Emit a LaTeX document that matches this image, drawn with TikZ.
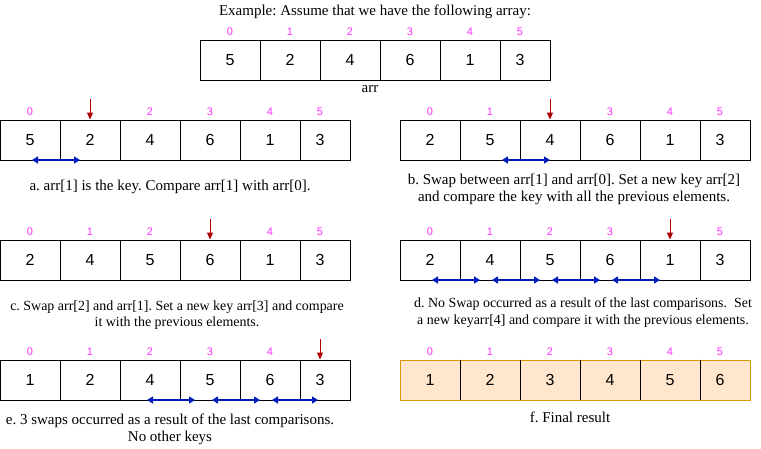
\documentclass[tikz,border=0pt]{standalone}
\usepackage{fontspec}
\setmainfont{Liberation Serif}
\newfontfamily\arialf{Liberation Sans}
\usetikzlibrary{arrows.meta}
\frenchspacing
\definecolor{idxmag}{HTML}{FF33FF}
\definecolor{keyred}{HTML}{B20000}
\definecolor{swapblue}{HTML}{001DBC}
\definecolor{peach}{HTML}{FFE6CC}
\definecolor{peachline}{HTML}{D79B00}
\tikzset{
  cell/.style={draw=black, line width=0.9pt, minimum width=60pt, minimum height=40pt, inner sep=0pt, font=\arialf\fontsize{16}{18}\selectfont},
  fcell/.style={cell, draw=peachline, fill=peach},
  idx/.style={inner sep=0pt, text=idxmag, font=\arialf\fontsize{11}{12}\selectfont},
  captxt/.style={align=center, inner sep=0pt, font=\frenchspacing\fontsize{15}{16.5}\selectfont},
  captsmall/.style={align=center, inner sep=0pt, font=\frenchspacing\fontsize{13.95}{16.2}\selectfont},
  keyarrow/.style={draw=keyred, line width=0.9pt, -{Triangle[length=7pt,width=6pt]}},
  swaparrow/.style={draw=swapblue, line width=1.7pt, {Triangle[length=6pt,width=7pt]}-{Triangle[length=6pt,width=7pt]}}
}
\newcommand\cellrow[5]{%
  \foreach \v [count=\k from 0] in {#5}{%
    \ifnum\k<5
      \node[#4] (#1\k) at ({#2+30+60*\k},{#3+20}) {\v};
    \else
      \node[#4,minimum width=50pt] (#1\k) at ({#2+325},{#3+20}) {\hspace*{-10pt}\v};
    \fi
  }}
\newcommand\idxrow[4]{%
  \foreach \k in {#4}{%
    \ifnum\k<5
      \node[idx] (#1i\k) at ({#2+30+60*\k},{#3-8}) {\k};
    \else
      \node[idx] (#1i\k) at ({#2+320},{#3-8}) {\k};
    \fi
  }}
\begin{document}
\begin{tikzpicture}[x=1pt,y=-1pt]
\useasboundingbox (0,0) rectangle (761,448);
\fill[white] (0,0) rectangle (761,448);

% top array
\node[captxt] (title) at (375,12) {Example: Assume that we have the following array:};
\cellrow{t}{200}{40}{cell}{5,2,4,6,1,3}
\idxrow{t}{200}{40}{0,1,2,3,4,5}
\node[captxt] (arrlbl) at (370,89) {arr};

% panel a
\cellrow{a}{0}{120}{cell}{5,2,4,6,1,3}
\idxrow{a}{0}{120}{0,2,3,4,5}
\coordinate (ka) at (90,99);
\draw[keyarrow] (ka) -- (ka |- a1.north);
\coordinate (sa0) at (32,160);
\coordinate (sa1) at (80,160);
\draw[swaparrow] (sa0) -- (sa1);
\node[captxt] (capa) at (170,186.5) {a. arr[1] is the key. Compare arr[1] with arr[0].};

% panel b
\cellrow{b}{400}{120}{cell}{2,5,4,6,1,3}
\idxrow{b}{400}{120}{0,1,3,4,5}
\coordinate (kb) at (550,99);
\draw[keyarrow] (kb) -- (kb |- b2.north);
\coordinate (sb0) at (502,160);
\coordinate (sb1) at (550,160);
\draw[swaparrow] (sb0) -- (sb1);
\node[captxt] (capb) at (574,189.5) {b. Swap between arr[1] and arr[0]. Set a new key arr[2]\\and compare the key with all the previous elements.};

% panel c
\cellrow{c}{0}{240}{cell}{2,4,5,6,1,3}
\idxrow{c}{0}{240}{0,1,2,4,5}
\coordinate (kc) at (210,219);
\draw[keyarrow] (kc) -- (kc |- c3.north);
\node[captsmall] (capc) at (177,315.5) {c. Swap arr[2] and arr[1]. Set a new key arr[3] and compare\\it with the previous elements.};

% panel d
\cellrow{d}{400}{240}{cell}{2,4,5,6,1,3}
\idxrow{d}{400}{240}{0,1,2,3,5}
\coordinate (kd) at (670,219);
\draw[keyarrow] (kd) -- (kd |- d4.north);
\coordinate (sd0) at (432,280);
\coordinate (sd1) at (480,280);
\coordinate (sd2) at (492,280);
\coordinate (sd3) at (540,280);
\coordinate (sd4) at (552,280);
\coordinate (sd5) at (600,280);
\coordinate (sd6) at (612,280);
\coordinate (sd7) at (660,280);
\draw[swaparrow] (sd0) -- (sd1);
\draw[swaparrow] (sd2) -- (sd3);
\draw[swaparrow] (sd4) -- (sd5);
\draw[swaparrow] (sd6) -- (sd7);
\node[captsmall] (capd) at (583,312.5) {d. No Swap occurred as a result of the last comparisons.\ \ Set\\a new keyarr[4] and compare it with the previous elements.};

% panel e
\cellrow{e}{0}{360}{cell}{1,2,4,5,6,3}
\idxrow{e}{0}{360}{0,1,2,3,4}
\coordinate (ke) at (320,339);
\draw[keyarrow] (ke) -- (ke |- e5.north);
\coordinate (se0) at (147,400);
\coordinate (se1) at (195,400);
\coordinate (se2) at (212,400);
\coordinate (se3) at (260,400);
\coordinate (se4) at (272,400);
\coordinate (se5) at (318,400);
\draw[swaparrow] (se0) -- (se1);
\draw[swaparrow] (se2) -- (se3);
\draw[swaparrow] (se4) -- (se5);
\node[captxt] (cape) at (170,429.5) {e. 3 swaps occurred as a result of the last comparisons.\\No other keys};

% panel f
\cellrow{f}{400}{360}{fcell}{1,2,3,4,5,6}
\idxrow{f}{400}{360}{0,1,2,3,4,5}
\foreach \k in {0,...,4}{\draw[black, line width=0.9pt] (f\k.north east) -- (f\k.south east);}
\node[captxt] (capf) at (570,417.5) {f. Final result};
\end{tikzpicture}
\end{document}
